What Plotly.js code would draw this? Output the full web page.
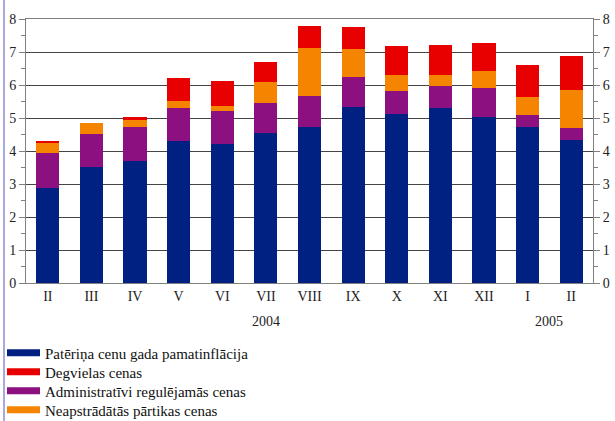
<!DOCTYPE html>
<html>
<head>
<meta charset="utf-8">
<script src="https://cdn.plot.ly/plotly-3.0.1.min.js"></script>
<style>
  html, body { margin: 0; padding: 0; background: #fff; }
  #chart { width: 615px; height: 421px; position: relative; }
  #edge { position: absolute; left: 3px; top: 0; width: 2px; height: 421px; background: #a9a9df; z-index: 10; }
</style>
</head>
<body>
<div id="chart"><div id="edge"></div></div>
<script>
// Data
const years  = ["2004","2004","2004","2004","2004","2004","2004","2004","2004","2004","2004","2005","2005"];
const months = ["II","III","IV","V","VI","VII","VIII","IX","X","XI","XII","I","II"];

const coreInflation = [2.87, 3.51, 3.69, 4.30, 4.21, 4.54, 4.73, 5.33, 5.12, 5.30, 5.03, 4.73, 4.33];
const adminPrices   = [1.07, 1.00, 1.04, 1.00, 1.00, 0.91, 0.94, 0.91, 0.70, 0.67, 0.88, 0.36, 0.37];
const foodPrices    = [0.30, 0.34, 0.21, 0.21, 0.15, 0.64, 1.45, 0.85, 0.48, 0.33, 0.52, 0.55, 1.15];
const fuelPrices    = [0.06, 0.00, 0.09, 0.70, 0.76, 0.61, 0.67, 0.67, 0.88, 0.91, 0.84, 0.97, 1.03];

const names = {
  core: "Patēriņa cenu gada pamatinflācija",
  fuel: "Degvielas cenas",
  admin: "Administratīvi regulējamās cenas",
  food: "Neapstrādātās pārtikas cenas"
};
const colors = { core: "#002082", fuel: "#e80000", admin: "#8c1080", food: "#f58500" };
const legendOrder = ["core", "fuel", "admin", "food"];

const idx = months.map((m, i) => i);

function bar(vals, key) {
  return { type: "bar", x: idx, y: vals, name: names[key], marker: { color: colors[key], line: { width: 0 } },
           showlegend: false, hoverinfo: "skip" };
}
function legendProxy(key, n) {
  return { type: "scatter", mode: "lines", x: [null], y: [null], name: names[key],
           line: { color: colors[key], width: 7 }, showlegend: true, hoverinfo: "skip",
           legend: n === 0 ? "legend" : "legend" + (n + 1) };
}

const traces = [
  bar(coreInflation, "core"),
  bar(adminPrices, "admin"),
  bar(foodPrices, "food"),
  bar(fuelPrices, "fuel"),
  { type: "scatter", mode: "markers", x: idx, y: idx.map(() => null), yaxis: "y2", showlegend: false, hoverinfo: "skip" }
].concat(legendOrder.map((k, n) => legendProxy(k, n)));

// Year group labels centred under their months
const yearGroups = [...new Set(years)].map(yr => {
  const ii = idx.filter(i => years[i] === yr);
  return { text: yr, x: ii.reduce((a, b) => a + b, 0) / ii.length };
});

const serif = "Liberation Serif";
const W = 615, H = 421, ml = 26, mr = 22, mt = 19, mb = 138;
const pw = W - ml - mr, ph = H - mt - mb;

const layout = {
  width: W, height: H,
  margin: { l: ml, r: mr, t: mt, b: mb, autoexpand: false },
  paper_bgcolor: "#fff", plot_bgcolor: "#fff",
  barmode: "stack",
  bargap: 0.47,
  font: { family: serif, size: 14, color: "#222" },
  showlegend: true,
  xaxis: {
    range: [-0.5, months.length - 0.5],
    tickvals: idx, ticktext: months,
    showline: true, linecolor: "#808080", linewidth: 1, mirror: true,
    ticks: "", showgrid: false, zeroline: false,
    tickfont: { family: serif, size: 14, color: "#222" }
  },
  yaxis: {
    range: [0, 8], dtick: 1, tick0: 0,
    showline: true, linecolor: "#808080", linewidth: 1,
    ticks: "outside", ticklen: 6, tickcolor: "#808080",
    minor: { dtick: 0.5, ticks: "outside", ticklen: 4, tickcolor: "#808080", showgrid: false },
    showgrid: true, gridcolor: "#444", gridwidth: 1,
    zeroline: false,
    tickfont: { family: serif, size: 14, color: "#222" }
  },
  yaxis2: {
    overlaying: "y", side: "right", range: [0, 8], dtick: 1, tick0: 0,
    showline: true, linecolor: "#808080", linewidth: 1,
    ticks: "outside", ticklen: 6, tickcolor: "#808080",
    minor: { dtick: 0.5, ticks: "outside", ticklen: 4, tickcolor: "#808080", showgrid: false },
    showgrid: false, zeroline: false,
    tickfont: { family: serif, size: 14, color: "#222" }
  },
  annotations: yearGroups.map(g => ({
    text: g.text, x: g.x, xref: "x", y: -(321 - (mt + ph)) / ph, yref: "paper",
    xanchor: "center", yanchor: "middle", showarrow: false,
    font: { family: serif, size: 14, color: "#222" }
  }))
};

legendOrder.forEach((k, n) => {
  const key = n === 0 ? "legend" : "legend" + (n + 1);
  layout[key] = {
    x: (2 - ml) / pw, xanchor: "left",
    y: -(353 + 19 * n - (mt + ph)) / ph, yanchor: "middle",
    font: { family: serif, size: 15, color: "#111" },
    itemwidth: 33, bgcolor: "rgba(0,0,0,0)"
  };
});

Plotly.newPlot("chart", traces, layout, { displayModeBar: false, staticPlot: true });
</script>
</body>
</html>
